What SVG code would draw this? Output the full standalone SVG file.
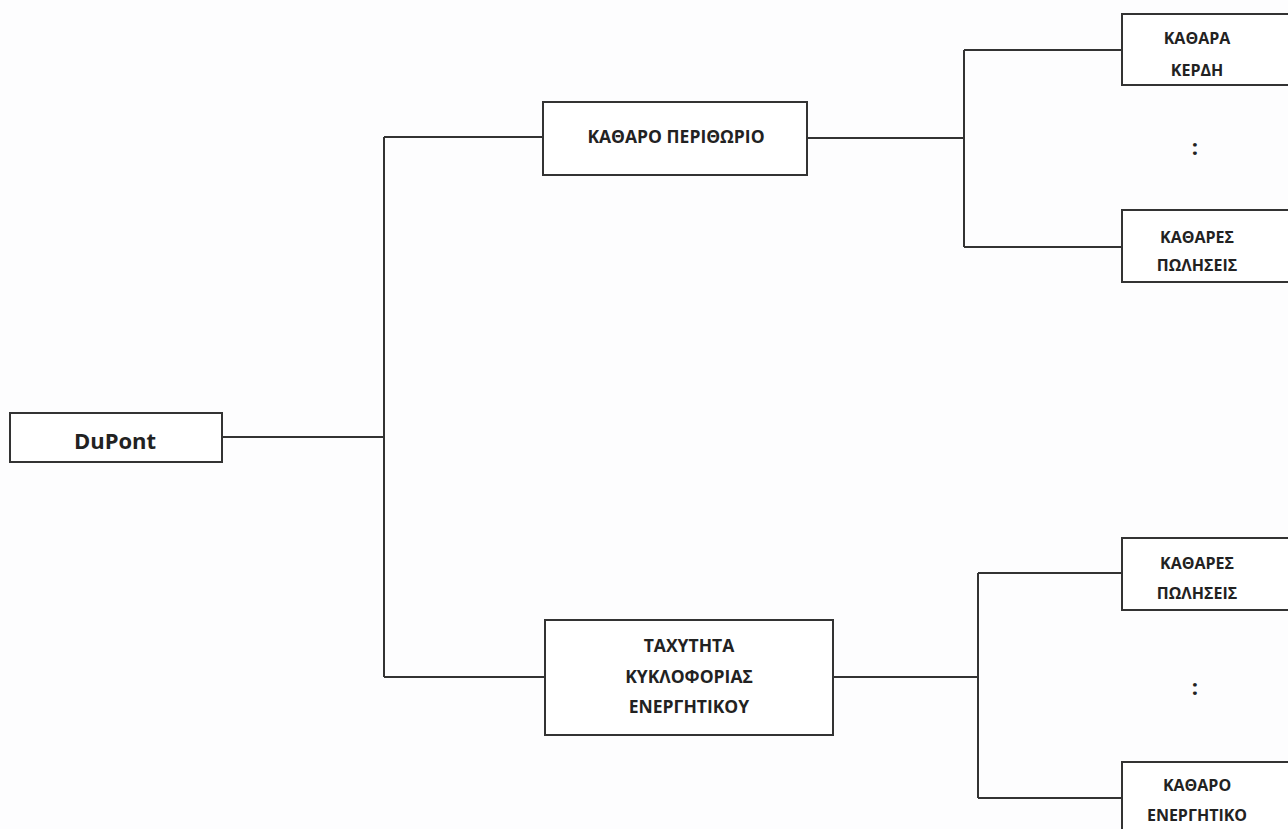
<svg xmlns="http://www.w3.org/2000/svg" width="1288" height="829" viewBox="0 0 1288 829">
<style>
.box{fill:#fff;stroke:#333;stroke-width:2}
.ln{fill:none;stroke:#333;stroke-width:2}
text{font-family:"Open Sans","Noto Sans","DejaVu Sans",sans-serif;font-weight:bold;fill:#222;text-anchor:middle;dominant-baseline:central}
.s{font-size:16px}
.c{font-size:22px}
.m{font-size:17.5px}
.l{font-size:22px}
</style>
<rect width="1288" height="829" fill="#fdfdfe"/>
<g id="connectors">
<path class="ln" d="M222 437H384M384 137V677M384 137H543M384 677H545"/>
<path class="ln" d="M807 138H964M964 50V247M964 50H1122M964 247H1122"/>
<path class="ln" d="M833 677H978M978 573V798M978 573H1122M978 798H1122"/>
</g>
<g id="dupont"><rect class="box" x="10" y="413" width="212" height="49"/><text class="l" x="115" y="440">DuPont</text></g>
<g id="kathar-perithorio"><rect class="box" x="543" y="102" width="264" height="73"/><text class="m" x="676" y="136">ΚΑΘΑΡΟ ΠΕΡΙΘΩΡΙΟ</text></g>
<g id="taxytita"><rect class="box" x="545" y="620" width="288" height="115"/><text class="m" x="689" y="645">ΤΑΧΥΤΗΤΑ</text><text class="m" x="689" y="676">ΚΥΚΛΟΦΟΡΙΑΣ</text><text class="m" x="689" y="706">ΕΝΕΡΓΗΤΙΚΟΥ</text></g>
<g id="kathara-kerdi"><rect class="box" x="1122" y="14" width="180" height="71"/><text class="s" x="1197" y="38">ΚΑΘΑΡΑ</text><text class="s" x="1197" y="70">ΚΕΡΔΗ</text></g>
<text class="c" x="1195" y="146">:</text>
<g id="kathares-poliseis-1"><rect class="box" x="1122" y="210" width="180" height="72"/><text class="s" x="1197" y="237">ΚΑΘΑΡΕΣ</text><text class="s" x="1197" y="265">ΠΩΛΗΣΕΙΣ</text></g>
<g id="kathares-poliseis-2"><rect class="box" x="1122" y="538" width="180" height="72"/><text class="s" x="1197" y="563">ΚΑΘΑΡΕΣ</text><text class="s" x="1197" y="593">ΠΩΛΗΣΕΙΣ</text></g>
<text class="c" x="1195" y="686">:</text>
<g id="katharo-energitiko"><rect class="box" x="1122" y="762" width="180" height="80"/><text class="s" x="1197" y="785">ΚΑΘΑΡΟ</text><text class="s" x="1197" y="815">ΕΝΕΡΓΗΤΙΚΟ</text></g>
</svg>
